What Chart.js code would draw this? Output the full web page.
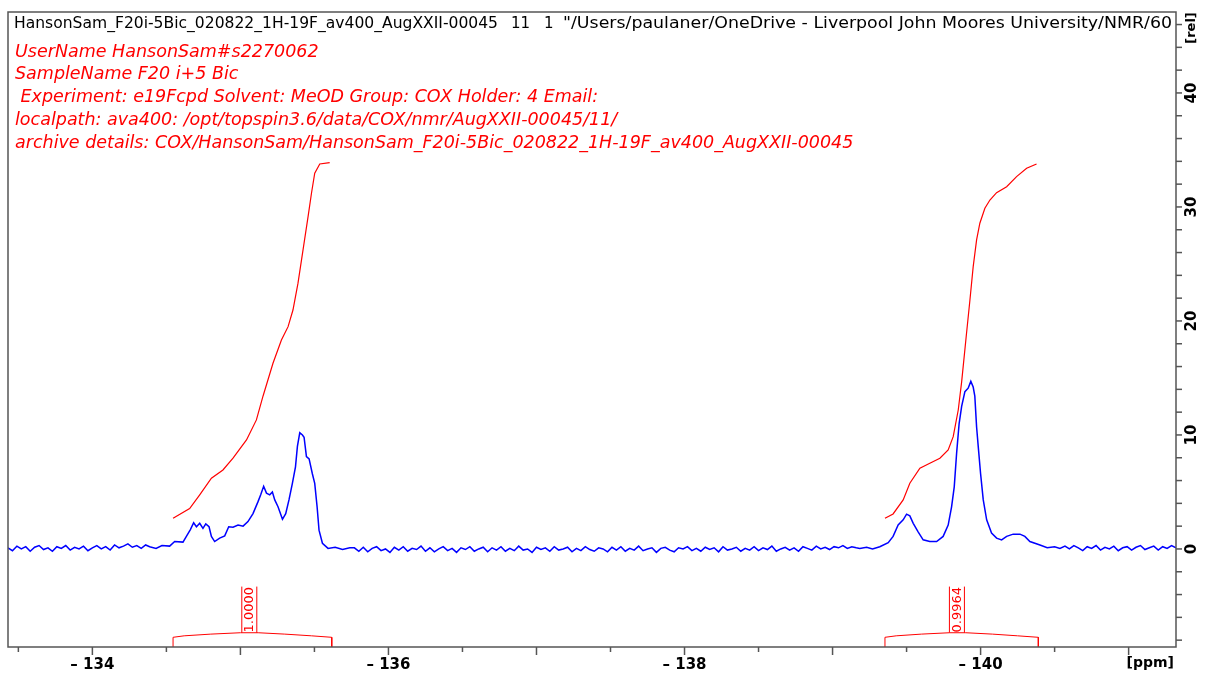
<!DOCTYPE html>
<html>
<head>
<meta charset="utf-8">
<script src="https://cdn.jsdelivr.net/npm/chart.js@4.4.1/dist/chart.umd.min.js"></script>
<style>
  html, body { margin: 0; padding: 0; background: #fff; }
</style>
</head>
<body>
<canvas id="nmrChart" width="1206" height="678"></canvas>
<script>
// axis ranges (ppm axis runs right-to-left)
const xMin = -141.32;
const xMax = -133.43;
const yMin = -8.6;
const yMax = 47.1;

const xMajorTicks = [-134, -136, -138, -140];
const xTickLabels = ['– 134', '– 136', '– 138', '– 140'];
const yMajorTicks = [0, 10, 20, 30, 40];
const yTickLabels = ['0', '10', '20', '30', '40'];

// 19F spectrum (ppm, rel)
const specPpm = [
  // left baseline
  -133.43, -133.46, -133.49, -133.52, -133.55, -133.58, -133.61, -133.64, -133.67, -133.70,
  -133.73, -133.76, -133.79, -133.82, -133.85, -133.88, -133.91, -133.94, -133.97, -134.00,
  -134.03, -134.06, -134.09, -134.12, -134.15, -134.18, -134.21, -134.24, -134.27, -134.30,
  -134.33, -134.36,
  // multiplet around -135
  -134.387, -134.43, -134.47, -134.522, -134.556, -134.612, -134.635, -134.662, -134.684, -134.703,
  -134.725, -134.747, -134.766, -134.788, -134.804, -134.826, -134.860, -134.894, -134.921, -134.950,
  -134.984, -135.018, -135.051, -135.085, -135.119, -135.137, -135.157, -135.176, -135.198, -135.216,
  -135.232, -135.254, -135.284, -135.306, -135.328, -135.351, -135.372, -135.385, -135.401, -135.419,
  -135.430, -135.446, -135.464, -135.486, -135.502, -135.518, -135.531, -135.554, -135.592, -135.64,
  -135.69, -135.739,
  // middle baseline
  -135.77, -135.80, -135.83, -135.86, -135.89, -135.92, -135.95, -135.98, -136.01, -136.04,
  -136.07, -136.10, -136.13, -136.16, -136.19, -136.22, -136.25, -136.28, -136.31, -136.34,
  -136.37, -136.40, -136.43, -136.46, -136.49, -136.52, -136.55, -136.58, -136.61, -136.64,
  -136.67, -136.70, -136.73, -136.76, -136.79, -136.82, -136.85, -136.88, -136.91, -136.94,
  -136.97, -137.00, -137.03, -137.06, -137.09, -137.12, -137.15, -137.18, -137.21, -137.24,
  -137.27, -137.30, -137.33, -137.36, -137.39, -137.42, -137.45, -137.48, -137.51, -137.54,
  -137.57, -137.60, -137.63, -137.66, -137.69, -137.72, -137.75, -137.78, -137.81, -137.84,
  -137.87, -137.90, -137.93, -137.96, -137.99, -138.02, -138.05, -138.08, -138.11, -138.14,
  -138.17, -138.20, -138.23, -138.26, -138.29, -138.32, -138.35, -138.38, -138.41, -138.44,
  -138.47, -138.50, -138.53, -138.56, -138.59, -138.62, -138.65, -138.68, -138.71, -138.74,
  -138.77, -138.80, -138.83, -138.86, -138.89, -138.92, -138.95, -138.98, -139.01, -139.04,
  -139.07, -139.10, -139.13, -139.16,
  // multiplet around -140
  -139.184, -139.23, -139.27, -139.319, -139.376, -139.409, -139.443, -139.477, -139.500, -139.522,
  -139.545, -139.578, -139.612, -139.657, -139.703, -139.747, -139.781, -139.804, -139.822, -139.838,
  -139.855, -139.872, -139.894, -139.916, -139.934, -139.950, -139.961, -139.973, -139.984, -140.000,
  -140.018, -140.041, -140.074, -140.108, -140.142, -140.176, -140.220, -140.266, -140.299, -140.333,
  -140.401, -140.45, -140.50, -140.536,
  // right baseline
  -140.57, -140.60, -140.63, -140.66, -140.69, -140.72, -140.75, -140.78, -140.81, -140.84,
  -140.87, -140.90, -140.93, -140.96, -140.99, -141.02, -141.05, -141.08, -141.11, -141.14,
  -141.17, -141.20, -141.23, -141.26, -141.29, -141.32
];
const specInt = [
  0.1, -0.15, 0.25, 0.0, 0.2, -0.2, 0.15, 0.3, -0.05, 0.1,
  -0.2, 0.2, 0.05, 0.3, -0.1, 0.15, 0.0, 0.25, -0.15, 0.1,
  0.3, 0.0, 0.2, -0.1, 0.35, 0.1, 0.25, 0.45, 0.15, 0.3,
  0.05, 0.35,

  0.2, 0.05, 0.3, 0.25, 0.65, 0.6, 1.1, 1.7, 2.3, 1.95,
  2.25, 1.8, 2.2, 1.95, 1.1, 0.65, 0.95, 1.15, 1.95, 1.9,
  2.1, 2.0, 2.4, 3.1, 4.15, 4.75, 5.5, 4.9, 4.75, 5.0,
  4.3, 3.7, 2.6, 3.1, 4.3, 5.75, 7.2, 9.0, 10.2, 10.0,
  9.8, 8.1, 7.9, 6.6, 5.75, 3.7, 1.65, 0.5, 0.05, 0.15,
  -0.05, 0.1,

  0.1, -0.2, 0.15, -0.25, 0.05, 0.2, -0.15, 0.0, -0.3, 0.15,
  -0.1, 0.2, -0.2, 0.05, -0.05, 0.25, -0.2, 0.1, -0.25, 0.0,
  0.2, -0.15, 0.05, -0.3, 0.1, -0.05, 0.2, -0.2, 0.0, 0.15,
  -0.25, 0.1, -0.1, 0.2, -0.2, 0.05, -0.15, 0.25, -0.1, 0.0,
  -0.3, 0.15, -0.05, 0.1, -0.2, 0.2, -0.1, 0.0, 0.15, -0.25,
  0.05, -0.15, 0.2, -0.05, -0.2, 0.1, 0.0, -0.25, 0.15, -0.1,
  0.2, -0.2, 0.05, -0.1, 0.25, -0.15, 0.0, 0.1, -0.3, 0.05,
  0.15, -0.1, -0.25, 0.1, 0.0, 0.2, -0.15, 0.05, -0.2, 0.15,
  -0.05, 0.1, -0.25, 0.2, -0.1, 0.0, 0.15, -0.2, 0.05, -0.1,
  0.2, -0.15, 0.1, -0.05, 0.25, -0.2, 0.0, 0.15, -0.1, 0.1,
  -0.2, 0.2, 0.05, -0.1, 0.25, 0.0, 0.15, -0.05, 0.2, 0.1,
  0.3, 0.05, 0.2, 0.1,

  0.05, 0.15, 0.0, 0.2, 0.55, 1.1, 2.1, 2.55, 3.05, 2.9,
  2.25, 1.5, 0.8, 0.65, 0.65, 1.1, 2.1, 3.7, 5.45, 8.4,
  11.0, 12.5, 13.8, 14.1, 14.7, 14.2, 13.4, 10.7, 9.0, 6.6,
  4.3, 2.55, 1.4, 0.95, 0.8, 1.1, 1.3, 1.3, 1.1, 0.65,
  0.35, 0.1, 0.2, 0.05,

  0.25, 0.0, 0.3, 0.1, -0.15, 0.2, 0.05, 0.3, -0.1, 0.15,
  0.0, 0.25, -0.15, 0.1, 0.2, -0.1, 0.15, 0.3, -0.05, 0.1,
  0.25, -0.1, 0.2, 0.05, 0.3, 0.1
];

// integral curves
const intLeftPpm = [-134.545, -134.657, -134.725, -134.804, -134.882, -134.950, -135.041, -135.108, -135.153, -135.220,
  -135.277, -135.322, -135.355, -135.389, -135.423, -135.457, -135.480, -135.502, -135.536, -135.603];
const intLeftVal = [2.69, 3.54, 4.74, 6.20, 6.93, 7.96, 9.56, 11.32, 13.42, 16.29,
  18.33, 19.50, 20.96, 23.31, 26.23, 29.15, 31.20, 32.96, 33.77, 33.89];
const intRightPpm = [-139.354, -139.409, -139.477, -139.522, -139.590, -139.657, -139.725, -139.781, -139.815, -139.849,
  -139.872, -139.905, -139.928, -139.950, -139.973, -139.995, -140.029, -140.063, -140.108, -140.176,
  -140.243, -140.311, -140.378];
const intRightVal = [2.69, 3.07, 4.30, 5.76, 7.08, 7.52, 7.96, 8.68, 9.85, 12.19,
  14.65, 18.92, 21.84, 24.76, 27.11, 28.57, 29.89, 30.61, 31.25, 31.78,
  32.66, 33.39, 33.77];

// integral brackets under the spectrum
const bracketLeftPpm = [-134.545, -134.545, -134.62, -134.80, -135.0, -135.12, -135.30, -135.48, -135.617, -135.617];
const bracketRightPpm = [-139.354, -139.354, -139.43, -139.60, -139.79, -139.90, -140.08, -140.25, -140.39, -140.39];
const bracketVal = [-8.6, -7.75, -7.62, -7.47, -7.35, -7.35, -7.47, -7.62, -7.75, -8.6];

const integralPpm = [-135.06, -139.84];
const integralText = ['1.0000', '0.9964'];
const integralBoxTop = -3.3;
const integralBoxBottom = -7.35;

const headerName = 'HansonSam_F20i-5Bic_020822_1H-19F_av400_AugXXII-00045';
const headerPath = '"/Users/paulaner/OneDrive - Liverpool John Moores University/NMR/600MHz';
const headerPathShown = '"/Users/paulaner/OneDrive - Liverpool John Moores University/NMR/60';
const infoLines = [
  'UserName HansonSam#s2270062',
  'SampleName F20 i+5 Bic',
  ' Experiment: e19Fcpd Solvent: MeOD Group: COX Holder: 4 Email:',
  'localpath: ava400: /opt/topspin3.6/data/COX/nmr/AugXXII-00045/11/',
  'archive details: COX/HansonSam/HansonSam_F20i-5Bic_020822_1H-19F_av400_AugXXII-00045'
];

function toPoints(xs, ys) {
  return xs.map((x, i) => ({ x: x, y: ys[i] }));
}

// draw text squeezed/stretched horizontally so `ref` spans `width`
function fitText(ctx, text, ref, x, y, width) {
  const sx = width / ctx.measureText(ref).width;
  ctx.save();
  ctx.translate(x, y);
  ctx.scale(sx, 1);
  ctx.fillText(text, 0, 0);
  ctx.restore();
}

const frameColor = '#555';
const fontFam = '"DejaVu Sans", sans-serif';

const nmrDecor = {
  id: 'nmrDecor',
  afterDraw(chart) {
    const ctx = chart.ctx;
    const area = chart.chartArea;
    const xs = chart.scales.x;
    const ys = chart.scales.y;
    ctx.save();

    // frame
    ctx.strokeStyle = frameColor;
    ctx.lineWidth = 1.5;
    ctx.strokeRect(area.left, area.top, area.right - area.left, area.bottom - area.top);

    // x ticks, longer on whole ppm
    xs.ticks.forEach(t => {
      const px = xs.getPixelForValue(t.value);
      const major = Math.abs(t.value - Math.round(t.value)) < 1e-6;
      ctx.beginPath();
      ctx.moveTo(px, area.bottom);
      ctx.lineTo(px, area.bottom + (major ? 8 : 5));
      ctx.stroke();
    });

    // y ticks + rotated labels
    ys.ticks.forEach(t => {
      const py = ys.getPixelForValue(t.value);
      ctx.beginPath();
      ctx.moveTo(area.right, py);
      ctx.lineTo(area.right + 6, py);
      ctx.stroke();
    });
    ctx.fillStyle = '#000';
    ctx.font = 'bold 15px ' + fontFam;
    ctx.textAlign = 'center';
    ctx.textBaseline = 'middle';
    yMajorTicks.forEach((v, i) => {
      const py = ys.getPixelForValue(v);
      ctx.save();
      ctx.translate(area.right + 16, py);
      ctx.rotate(-Math.PI / 2);
      ctx.fillText(yTickLabels[i], 0, 0);
      ctx.restore();
    });
    ctx.save();
    ctx.font = 'bold 13px ' + fontFam;
    ctx.translate(area.right + 16, area.top + 16);
    ctx.rotate(-Math.PI / 2);
    ctx.fillText('[rel]', 0, 0);
    ctx.restore();

    // ppm unit
    ctx.font = 'bold 14px ' + fontFam;
    ctx.textAlign = 'right';
    ctx.fillText('[ppm]', area.right - 2, area.bottom + 16);

    // integral value boxes
    ctx.strokeStyle = '#ff0000';
    ctx.fillStyle = '#ff0000';
    ctx.lineWidth = 1;
    ctx.font = '13px ' + fontFam;
    integralPpm.forEach((p, i) => {
      const px = xs.getPixelForValue(p);
      const top = ys.getPixelForValue(integralBoxTop);
      const bot = ys.getPixelForValue(integralBoxBottom);
      ctx.beginPath();
      ctx.moveTo(px - 7.5, bot);
      ctx.lineTo(px - 7.5, top);
      ctx.moveTo(px + 7.5, bot);
      ctx.lineTo(px + 7.5, top);
      ctx.stroke();
      ctx.save();
      ctx.translate(px + 0.5, (top + bot) / 2);
      ctx.rotate(-Math.PI / 2);
      ctx.textAlign = 'center';
      ctx.textBaseline = 'middle';
      ctx.fillText(integralText[i], 0, 0);
      ctx.restore();
    });

    // header text, clipped to the frame
    ctx.beginPath();
    ctx.rect(area.left, area.top, area.right - area.left - 4, area.bottom - area.top);
    ctx.clip();
    ctx.textAlign = 'left';
    ctx.textBaseline = 'middle';
    ctx.fillStyle = '#000';
    ctx.font = '15px ' + fontFam;
    fitText(ctx, headerName, headerName, 14, 24, 484);
    ctx.fillText('11', 511, 24);
    ctx.fillText('1', 544, 24);
    fitText(ctx, headerPath, headerPathShown, 563, 24, 609);
    ctx.fillStyle = '#ff0000';
    ctx.font = 'italic 17.5px ' + fontFam;
    infoLines.forEach((s, i) => {
      ctx.fillText(s, 15, 52 + i * 22.8);
    });
    ctx.restore();
  }
};

const lineDefaults = { pointRadius: 0, tension: 0, fill: false };

new Chart(document.getElementById('nmrChart'), {
  type: 'line',
  data: {
    datasets: [
      Object.assign({ data: toPoints(specPpm, specInt), borderColor: '#0000ff', borderWidth: 1.5 }, lineDefaults),
      Object.assign({ data: toPoints(intLeftPpm, intLeftVal), borderColor: '#ff0000', borderWidth: 1.2 }, lineDefaults),
      Object.assign({ data: toPoints(intRightPpm, intRightVal), borderColor: '#ff0000', borderWidth: 1.2 }, lineDefaults),
      Object.assign({ data: toPoints(bracketLeftPpm, bracketVal), borderColor: '#ff0000', borderWidth: 1 }, lineDefaults),
      Object.assign({ data: toPoints(bracketRightPpm, bracketVal), borderColor: '#ff0000', borderWidth: 1 }, lineDefaults)
    ]
  },
  options: {
    responsive: false,
    animation: false,
    events: [],
    layout: { padding: { left: 8, top: 12, right: 0, bottom: 0 } },
    plugins: { legend: { display: false }, tooltip: { enabled: false } },
    scales: {
      x: {
        type: 'linear',
        reverse: true,
        min: xMin,
        max: xMax,
        grid: { display: false },
        border: { display: false },
        ticks: {
          stepSize: 0.5,
          includeBounds: false,
          autoSkip: false,
          maxRotation: 0,
          padding: 1,
          color: '#000',
          font: { family: 'DejaVu Sans', size: 15, weight: 'bold' },
          callback: (v) => {
            const i = xMajorTicks.findIndex(m => Math.abs(m - v) < 1e-6);
            return i >= 0 ? xTickLabels[i] : '';
          }
        },
        afterFit: (s) => { s.height = 31; }
      },
      y: {
        type: 'linear',
        position: 'right',
        min: yMin,
        max: yMax,
        grid: { display: false },
        border: { display: false },
        ticks: { display: false, stepSize: 2, includeBounds: false },
        afterFit: (s) => { s.width = 30; }
      }
    }
  },
  plugins: [nmrDecor]
});
</script>
</body>
</html>
